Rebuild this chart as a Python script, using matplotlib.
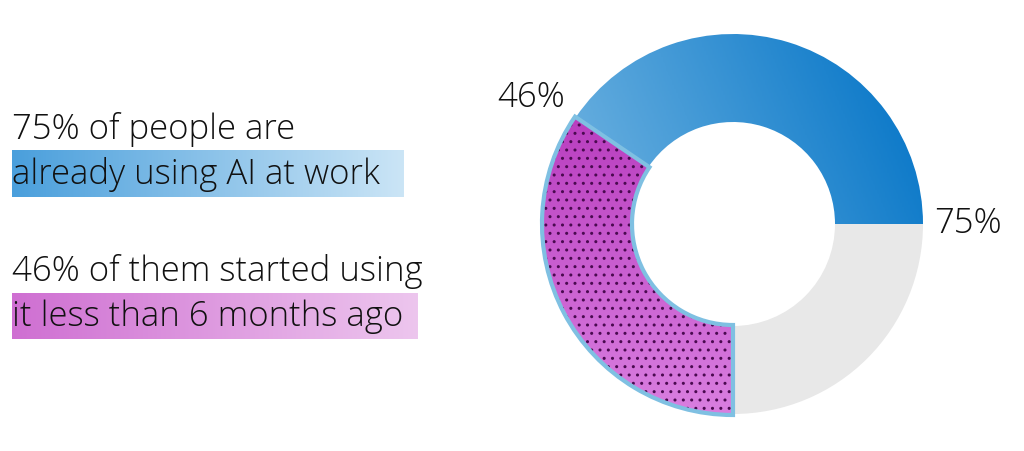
import numpy as np
import matplotlib
matplotlib.use("Agg")
import matplotlib.pyplot as plt
from matplotlib.patches import Wedge
from matplotlib.colors import LinearSegmentedColormap

using_ai = 75
started_recent = 46
line1 = ["75% of people are", "already using AI at work"]
line2 = ["46% of them started using", "it less than 6 months ago"]

fig = plt.figure(figsize=(10.24, 4.52), dpi=100)
ax = fig.add_axes([0, 0, 1, 1])
ax.set_xlim(0, 1024); ax.set_ylim(452, 0); ax.axis("off")

font = dict(family=["Open Sans", "DejaVu Sans"], fontweight="light", fontsize=25, color="#111111")

def grad_box(x0, x1, y0, y1, c0, c1):
    cm = LinearSegmentedColormap.from_list("g", [c0, c1])
    ax.imshow(np.linspace(0, 1, 256)[None, :], cmap=cm, extent=(x0, x1, y1, y0), aspect="auto", zorder=1)

grad_box(12, 404, 152, 198, "#4a9fdc", "#cbe5f6")
grad_box(12, 418, 294, 340, "#cf6fd2", "#edc6ee")
ax.text(12, 130, line1[0], va="center", ha="left", zorder=3, **font)
ax.text(12, 175, line1[1], va="center", ha="left", zorder=3, **font)
ax.text(12, 272, line2[0], va="center", ha="left", zorder=3, **font)
ax.text(12, 317, line2[1], va="center", ha="left", zorder=3, **font)

cx, cy, R, w = 733, 225, 190, 88
blue_end = using_ai / 100 * 360
mag_span = blue_end * started_recent / 100
blue_span = blue_end - mag_span
ax.add_patch(Wedge((cx, cy), R, 0, 360 - blue_end, width=w, facecolor="#e8e8e8", edgecolor="none", zorder=2))
bw = Wedge((cx, cy), R, 360 - blue_span, 360, width=w, facecolor="none", edgecolor="none", zorder=2)
ax.add_patch(bw)
xx, yy = np.meshgrid(np.linspace(0, 1, 200), np.linspace(0, 1, 200))
g = 0.7 * xx + 0.3 * (1 - yy)
cmb = LinearSegmentedColormap.from_list("b", ["#8cc4e8", "#0072c6"])
im = ax.imshow(g, cmap=cmb, extent=(cx - R, cx + R, cy + R, cy - R), aspect="auto", zorder=2)
im.set_clip_path(bw)
mw = Wedge((cx, cy), R, 360 - blue_end, 360 - blue_span, width=w, facecolor="none", edgecolor="none", zorder=2)
ax.add_patch(mw)
cmm = LinearSegmentedColormap.from_list("m", ["#b02cb6", "#d97ee0"])
im2 = ax.imshow(np.linspace(0, 1, 200)[:, None], cmap=cmm, extent=(cx - R, cx + R, cy + R, cy - R), aspect="auto", zorder=2)
im2.set_clip_path(mw)
matplotlib.rcParams["hatch.linewidth"] = 1.0
ax.add_patch(Wedge((cx, cy), R, 360 - blue_end, 360 - blue_span, width=w, facecolor="none",
                   edgecolor="#4a0a50", hatch="..", linewidth=0, zorder=3))
ax.add_patch(Wedge((cx, cy), R + 1, 360 - blue_end, 360 - blue_span, width=w + 2, facecolor="none",
                   edgecolor="#7fc0e2", linewidth=3, zorder=4))

ax.text(531, 98, f"{started_recent}%", ha="center", va="center", **font)
ax.text(968, 224, f"{using_ai}%", ha="center", va="center", **font)
fig.savefig("out.png", dpi=100)
